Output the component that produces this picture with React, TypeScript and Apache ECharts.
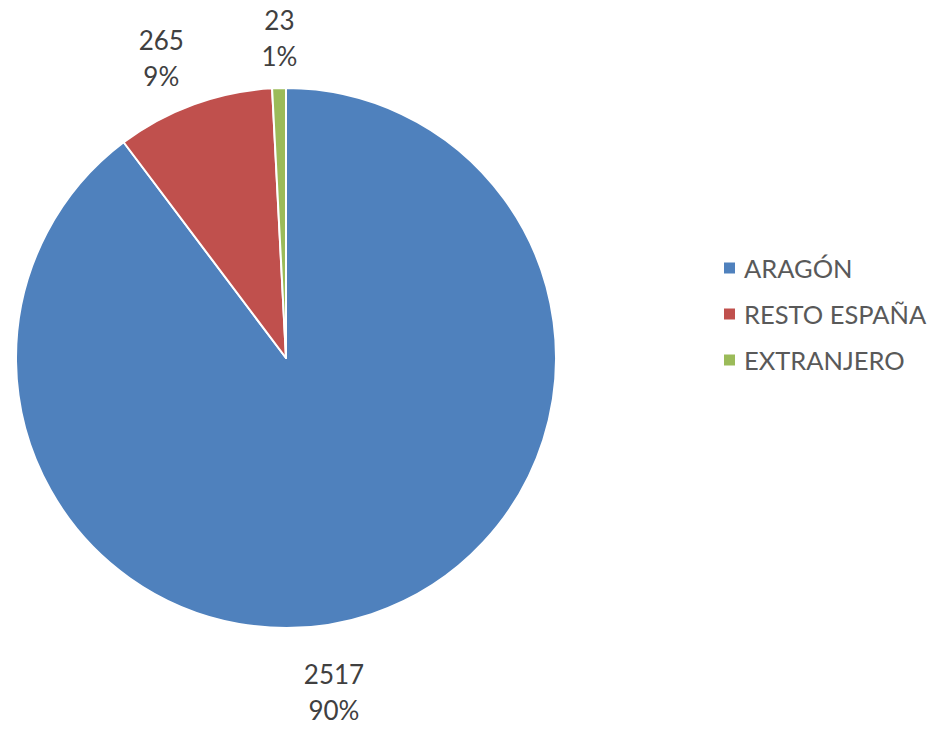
import React, { useEffect, useRef } from "react";
import * as echarts from "echarts";

const categories = ["ARAGÓN", "RESTO ESPAÑA", "EXTRANJERO"];
const values = [2517, 265, 23];
const colors = ["#4F81BD", "#C0504D", "#9BBB59"];

export default function App() {
  const ref = useRef<HTMLDivElement>(null);
  useEffect(() => {
    if (!ref.current) return;
    const chart = echarts.init(ref.current, undefined, { renderer: "svg" });
    const cx = 286;
    const cy = 358;
    const R = 270;
    const total = values.reduce((a, b) => a + b, 0);
    const mids: number[] = [];
    let acc = 0;
    values.forEach((v) => {
      const a0 = 90 - (acc / total) * 360;
      acc += v;
      const a1 = 90 - (acc / total) * 360;
      mids.push((a0 + a1) / 2);
    });
    // label placement tweaks (degrees shift, distance from centre)
    const angleShift = [-10.3, 2.6, -0.3];
    const dist = [337, 325, 320];
    chart.setOption({
      animation: false,
      color: colors,
      legend: {
        orient: "vertical",
        left: 717,
        top: 250,
        itemWidth: 13,
        itemHeight: 13,
        itemGap: 20,
        icon: "rect",
        textStyle: { fontFamily: "Lato", fontSize: 25.5, color: "#595959", padding: [0, 0, 0, 3] },
        data: categories,
      },
      series: [
        {
          type: "pie",
          center: [cx, cy],
          radius: R,
          startAngle: 90,
          clockwise: true,
          percentPrecision: 0,
          itemStyle: { borderColor: "#fff", borderWidth: 2 },
          label: {
            show: true,
            position: "outside",
            formatter: "{c}\n{d}%",
            fontFamily: "Lato",
            fontSize: 26,
            lineHeight: 36,
            color: "#404040",
            align: "center",
          },
          labelLine: { show: false },
          labelLayout: (p: any) => {
            const i = p.dataIndex;
            const a = ((mids[i] + angleShift[i]) * Math.PI) / 180;
            return {
              x: cx + Math.cos(a) * dist[i],
              y: cy - Math.sin(a) * dist[i],
              align: "center",
              verticalAlign: "middle",
            };
          },
          emphasis: { disabled: true },
          data: categories.map((name, i) => ({ name, value: values[i] })),
        },
      ],
    });
    return () => chart.dispose();
  }, []);
  return (
    <div
      ref={ref}
      style={{ position: "absolute", left: 0, top: 0, width: 932, height: 729, background: "#fff" }}
    />
  );
}
